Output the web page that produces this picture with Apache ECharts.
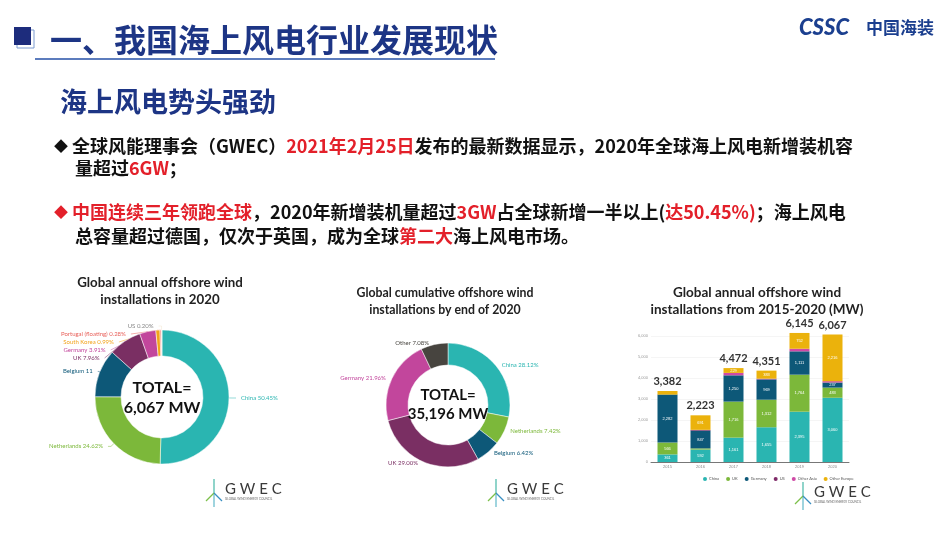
<!DOCTYPE html>
<html>
<head>
<meta charset="utf-8">
<script src="https://cdn.jsdelivr.net/npm/echarts@6/dist/echarts.min.js"></script>
<style>
  html, body { margin: 0; padding: 0; background: #fff; }
  #main { width: 950px; height: 535px; }
</style>
</head>
<body>
<div id="main"></div>
<script>
// ---- data: 2020 annual offshore installations (share %) ----
const annNames = ['China', 'Netherlands', 'Belgium', 'UK', 'Germany', 'South Korea', 'Portugal (floating)', 'US'];
const annShares = [50.45, 24.62, 11.59, 7.96, 3.91, 0.99, 0.28, 0.20];
const annLabels = ['China 50.45%', 'Netherlands 24.62%', 'Belgium 11', 'UK 7.96%', 'Germany 3.91%', 'South Korea 0.99%', 'Portugal (floating) 0.28%', 'US 0.20%'];

// ---- data: cumulative by end of 2020 (share %) ----
const cumNames = ['China', 'Netherlands', 'Belgium', 'UK', 'Germany', 'Other'];
const cumShares = [28.12, 7.42, 6.42, 29.00, 21.96, 7.08];

// ---- data: annual installations 2015-2020 (MW) ----
const years = ['2015', '2016', '2017', '2018', '2019', '2020'];
const china = [361, 592, 1161, 1655, 2395, 3060];
const uk = [566, 56, 1716, 1312, 1764, 483];
const germany = [2282, 847, 1250, 969, 1111, 237];
const us = [0, 30, 0, 0, 0, 12];
const otherAsia = [0, 7, 116, 32, 123, 59];
const otherEurope = [173, 691, 229, 383, 752, 2216];
const totals = [3382, 2223, 4472, 4351, 6145, 6067];
const yTicks = [0, 1000, 2000, 3000, 4000, 5000, 6000];

const colorOf = {
  'China': '#2ab5b1', 'Netherlands': '#7cb83a', 'Belgium': '#0d5878', 'UK': '#7a2f63',
  'Germany': '#c2469c', 'South Korea': '#f2a31b', 'Portugal (floating)': '#e8605a', 'US': '#f3e6cf',
  'Other': '#47443f'
};
const barColors = {
  'China': '#2ab5b1', 'UK': '#7cb83a', 'Germany': '#0d5878', 'US': '#7f2a68',
  'Other Asia': '#cf4aa6', 'Other Europe': '#ebb20c'
};

const cjk = '"Noto Sans CJK SC", "Noto Sans", sans-serif';
const latin = 'Lato, "Open Sans", sans-serif';

const chart = echarts.init(document.getElementById('main'));

function fmt(v) { return v.toLocaleString('en-US'); }

function gwecLogo(x, y) {
  return {
    type: 'group', x: x, y: y, z: 100,
    children: [
      { type: 'line', shape: { x1: 6, y1: 4, x2: 6, y2: 18 }, style: { stroke: '#5fb8c9', lineWidth: 1.2 } },
      { type: 'line', shape: { x1: 6, y1: 4, x2: 6, y2: -10 }, style: { stroke: '#45b7a7', lineWidth: 1.2 } },
      { type: 'line', shape: { x1: 6, y1: 4, x2: -2, y2: 12 }, style: { stroke: '#7cc04a', lineWidth: 1.2 } },
      { type: 'line', shape: { x1: 6, y1: 4, x2: 14, y2: 12 }, style: { stroke: '#3a8fc2', lineWidth: 1.2 } },
      { type: 'text', style: { text: 'G W E C', x: 17, y: 0, font: '15px ' + latin, fill: '#3a3a3a', align: 'left', textAlign: 'left', verticalAlign: 'middle', textVerticalAlign: 'middle' } },
      { type: 'text', style: { text: 'GLOBAL WIND ENERGY COUNCIL', x: 17, y: 10, font: '3px ' + latin, fill: '#666', align: 'left', textAlign: 'left', verticalAlign: 'middle', textVerticalAlign: 'middle' } }
    ]
  };
}

function txt(text, x, y, font, fill, align) {
  return { type: 'text', z: 100, style: { text: text, x: x, y: y, font: font, fill: fill,
    align: align || 'left', textAlign: align || 'left', verticalAlign: 'middle', textVerticalAlign: 'middle' } };
}

const bf = 'bold 18px ' + cjk;
const rich = {
  b: { fill: '#111', color: '#111', font: bf },
  r: { fill: '#e3202a', color: '#e3202a', font: bf },
  d: { fill: '#111', color: '#111', font: '14px ' + cjk },
  dr: { fill: '#e3202a', color: '#e3202a', font: '14px ' + cjk }
};
function richLine(text, x, y) {
  return { type: 'text', z: 100, style: { text: text, x: x, y: y, rich: rich, font: bf,
    align: 'left', textAlign: 'left', verticalAlign: 'middle', textVerticalAlign: 'middle' } };
}

function stackSeries(name, values) {
  return {
    name: name, type: 'bar', stack: 'all', barWidth: 20, clip: false,
    itemStyle: { color: barColors[name] },
    label: {
      show: true, position: 'inside', fontSize: 4, color: '#fff',
      formatter: p => (p.value >= 200 ? fmt(p.value) : '')
    },
    data: values
  };
}

const option = {
  backgroundColor: '#fff',
  animation: false,
  grid: { left: 651, right: 101, top: 336, bottom: 73 },
  legend: {
    data: ['China', 'UK', 'Germany', 'US', 'Other Asia', 'Other Europe'],
    left: 698, top: 472, itemWidth: 4, itemHeight: 4, itemGap: 7, icon: 'circle',
    textStyle: { fontSize: 4, color: '#555', fontFamily: latin, padding: [0, 0, 0, -3] }
  },
  xAxis: {
    type: 'category', data: years,
    axisTick: { show: false },
    axisLine: { lineStyle: { color: '#777', width: 1 } },
    axisLabel: { fontSize: 4, color: '#888', margin: 3 }
  },
  yAxis: {
    type: 'value', min: 0, max: yTicks[yTicks.length - 1], interval: 1000,
    axisLabel: { fontSize: 4, color: '#999', margin: 3, formatter: v => fmt(v) },
    splitLine: { lineStyle: { color: '#eee', width: 0.6 } }
  },
  series: [
    {
      type: 'pie', center: [162, 397], radius: [41, 67], startAngle: 90, clockwise: true,
      avoidLabelOverlap: true, minShowLabelAngle: 0,
      itemStyle: { borderColor: '#fff', borderWidth: 0.5 },
      label: { fontSize: 6, fontFamily: latin, formatter: p => annLabels[p.dataIndex] },
      labelLine: { length: 4, length2: 3, lineStyle: { width: 0.5 } },
      emphasis: { disabled: true },
      data: annNames.map((n, i) => ({ name: n, value: annShares[i], itemStyle: { color: colorOf[n] },
        label: { color: n === 'US' ? '#888' : colorOf[n] } }))
    },
    {
      type: 'pie', center: [448, 405], radius: [40, 62], startAngle: 90, clockwise: true,
      itemStyle: { borderColor: '#fff', borderWidth: 0.5 },
      label: { fontSize: 6, fontFamily: latin, formatter: p => p.name + ' ' + p.value.toFixed(2) + '%' },
      labelLine: { show: false, length: 1, length2: 0 },
      emphasis: { disabled: true },
      data: cumNames.map((n, i) => ({ name: n, value: cumShares[i], itemStyle: { color: colorOf[n] },
        label: { color: colorOf[n] } }))
    },
    stackSeries('China', china),
    stackSeries('UK', uk),
    stackSeries('Germany', germany),
    stackSeries('US', us),
    stackSeries('Other Asia', otherAsia),
    stackSeries('Other Europe', otherEurope),
    {
      name: 'total', type: 'bar', barWidth: 20, barGap: '-100%', clip: false, z: 1,
      itemStyle: { color: 'rgba(0,0,0,0)' },
      label: { show: true, position: 'top', distance: 4, fontSize: 11, fontWeight: 'bold',
        color: '#333', fontFamily: latin, formatter: p => fmt(p.value) },
      data: totals
    }
  ],
  graphic: [
    // slide header
    { type: 'rect', z: 100, shape: { x: 17, y: 30, width: 17, height: 18 }, style: { fill: 'none', stroke: '#7d9bd0', lineWidth: 1 } },
    { type: 'rect', z: 100, shape: { x: 14, y: 27, width: 17, height: 18 }, style: { fill: '#1d2c7c' } },
    txt('一、我国海上风电行业发展现状', 50, 40, 'bold 32px ' + cjk, '#1d3585'),
    { type: 'line', z: 100, shape: { x1: 35, y1: 59, x2: 495, y2: 59 }, style: { stroke: '#5c7cbd', lineWidth: 2 } },
    txt('CSSC', 799, 28, 'italic 900 22px ' + latin, '#1b3f8f'),
    txt('中国海装', 866, 28, 'bold 17px ' + cjk, '#1b3f8f'),
    txt('海上风电势头强劲', 60, 102, 'bold 27px ' + cjk, '#1d3585'),

    // bullets
    richLine('{d|◆} {b|全球风能理事会（GWEC）}{r|2021年2月25日}{b|发布的最新数据显示，2020年全球海上风电新增装机容}', 54, 146),
    richLine('{b|量超过}{r|6GW}{b|；}', 75, 168),
    richLine('{dr|◆} {r|中国连续三年领跑全球}{b|，2020年新增装机量超过}{r|3GW}{b|占全球新增一半以上(}{r|达50.45%)}{b|；海上风电}', 54, 212),
    richLine('{b|总容量超过德国，仅次于英国，成为全球}{r|第二大}{b|海上风电市场。}', 75, 236),

    // chart titles
    txt('Global annual offshore wind', 160, 283, 'bold 13.3px ' + latin, '#222', 'center'),
    txt('installations in 2020', 160, 300, 'bold 13.3px ' + latin, '#222', 'center'),
    txt('Global cumulative offshore wind', 445, 293, 'bold 12.3px ' + latin, '#222', 'center'),
    txt('installations by end of 2020', 445, 310, 'bold 12.3px ' + latin, '#222', 'center'),
    txt('Global annual offshore wind', 757, 293, 'bold 13.5px ' + latin, '#222', 'center'),
    txt('installations from 2015-2020 (MW)', 757, 310, 'bold 13.5px ' + latin, '#222', 'center'),

    // donut centres
    txt('TOTAL=', 162, 388, 'bold 16px ' + latin, '#111', 'center'),
    txt('6,067 MW', 162, 408, 'bold 16px ' + latin, '#111', 'center'),
    txt('TOTAL=', 448, 395, 'bold 15px ' + latin, '#111', 'center'),
    txt('35,196 MW', 448, 414, 'bold 15px ' + latin, '#111', 'center'),

    gwecLogo(208, 489),
    gwecLogo(490, 489),
    gwecLogo(797, 492)
  ]
};

chart.setOption(option);
</script>
</body>
</html>
